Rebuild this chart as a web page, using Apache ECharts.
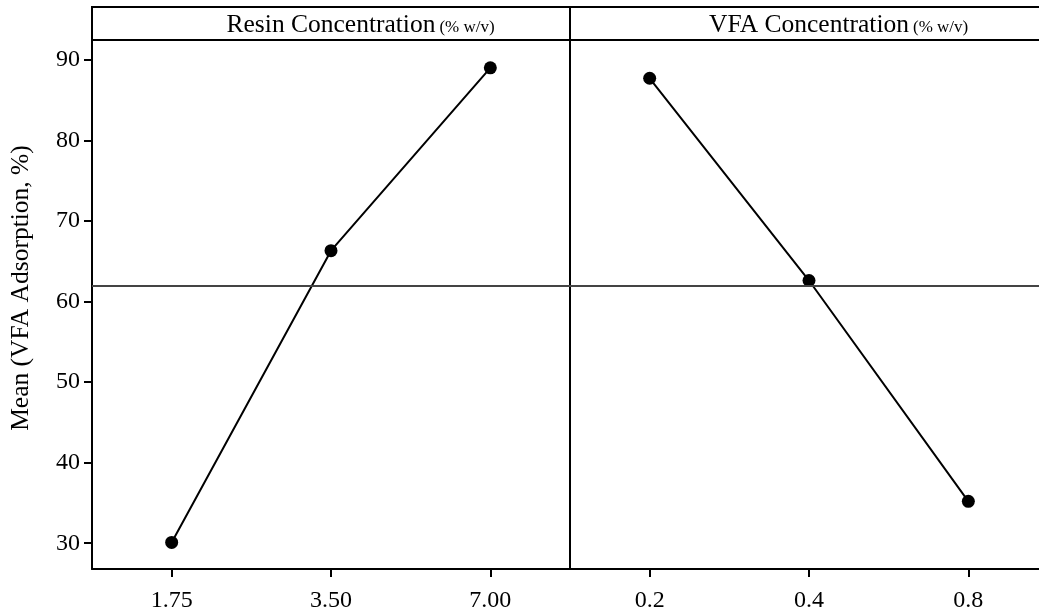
<!DOCTYPE html>
<html>
<head>
<meta charset="utf-8">
<script src="https://cdn.jsdelivr.net/npm/echarts@6/dist/echarts.min.js"></script>
<style>
html,body{margin:0;padding:0;background:#fff;}
#chart{width:1039px;height:612px;}
</style>
</head>
<body>
<div id="chart"></div>
<script>
// ---- data ----
const resinCategories = ['1.75', '3.50', '7.00'];
const resinMeans = [30.1, 66.3, 89.0];
const vfaCategories = ['0.2', '0.4', '0.8'];
const vfaMeans = [87.7, 62.6, 35.2];
const grandMean = 61.9;
const yTickValues = [30, 40, 50, 60, 70, 80, 90];
const yMin = 26.8;
const yMax = 92.45;
const panelTitles = ['Resin Concentration', 'VFA Concentration'];
const panelUnit = '(% w/v)';
const yAxisTitle = 'Mean (VFA Adsorption, %)';

// ---- layout ----
const FONT = "'Liberation Serif', 'Times New Roman', serif";
const frameLeft = 92, frameTop = 7, headerBottom = 40, frameBottom = 569;
const panelW = 478;
const titleSize = 25.5, unitSize = 17;

function measure(text, size) {
  const c = document.createElement('canvas').getContext('2d');
  c.font = size + 'px ' + FONT;
  return c.measureText(text).width;
}

const chart = echarts.init(document.getElementById('chart'), null, {renderer: 'canvas'});

function xAxisDef(idx, cats) {
  return {
    type: 'category', gridIndex: idx, data: cats, boundaryGap: true,
    axisLine: {show: true, lineStyle: {color: '#000', width: 2}},
    axisTick: {show: true, alignWithLabel: true, length: 8, lineStyle: {color: '#000', width: 2}},
    axisLabel: {color: '#000', fontSize: 24, fontFamily: FONT, margin: 20},
    splitLine: {show: false}
  };
}
function yAxisDef(idx, showLabels) {
  return {
    type: 'value', gridIndex: idx, min: yMin, max: yMax,
    axisLine: {show: true, lineStyle: {color: '#000', width: 2}},
    axisTick: {show: showLabels, length: 8, customValues: yTickValues, lineStyle: {color: '#000', width: 2}},
    axisLabel: {show: showLabels, customValues: yTickValues, color: '#000', fontSize: 24, fontFamily: FONT, margin: 12},
    splitLine: {show: false}
  };
}
function seriesDef(idx, vals) {
  return {
    type: 'line', xAxisIndex: idx, yAxisIndex: idx, data: vals,
    symbol: 'circle', symbolSize: 13,
    lineStyle: {color: '#000', width: 2},
    itemStyle: {color: '#000'},
    markLine: {
      silent: true, symbol: 'none', label: {show: false},
      lineStyle: {color: '#444', width: 2, type: 'solid'},
      data: [{yAxis: grandMean}]
    },
    animation: false
  };
}

const graphics = [
  {type: 'rect', shape: {x: frameLeft, y: frameTop, width: panelW * 2, height: headerBottom - frameTop},
   style: {fill: 'none', stroke: '#000', lineWidth: 2}, silent: true},
  {type: 'line', shape: {x1: frameLeft + panelW, y1: frameTop, x2: frameLeft + panelW, y2: headerBottom},
   style: {stroke: '#000', lineWidth: 2}, silent: true},
  {type: 'text', x: 21, y: (frameTop + frameBottom) / 2, rotation: Math.PI / 2,
   style: {text: yAxisTitle, font: titleSize + 'px ' + FONT, fill: '#000', align: 'center', verticalAlign: 'middle'}, silent: true}
];
panelTitles.forEach(function (t, i) {
  const cx = frameLeft + panelW * i + panelW / 2;
  const w = measure(t, titleSize);
  graphics.push({type: 'text', x: cx, y: 25,
    style: {text: t, font: titleSize + 'px ' + FONT, fill: '#000', align: 'center', verticalAlign: 'middle'}, silent: true});
  graphics.push({type: 'text', x: cx + w / 2 + 4, y: 27.5,
    style: {text: panelUnit, font: unitSize + 'px ' + FONT, fill: '#000', align: 'left', verticalAlign: 'middle'}, silent: true});
});

chart.setOption({
  animation: false,
  backgroundColor: '#fff',
  grid: [
    {left: frameLeft, top: headerBottom, width: panelW, height: frameBottom - headerBottom, containLabel: false, outerBoundsMode: 'none'},
    {left: frameLeft + panelW, top: headerBottom, width: panelW, height: frameBottom - headerBottom, containLabel: false, outerBoundsMode: 'none'}
  ],
  xAxis: [xAxisDef(0, resinCategories), xAxisDef(1, vfaCategories)],
  yAxis: [yAxisDef(0, true), yAxisDef(1, false)],
  series: [seriesDef(0, resinMeans), seriesDef(1, vfaMeans)],
  graphic: graphics
});
</script>
</body>
</html>
